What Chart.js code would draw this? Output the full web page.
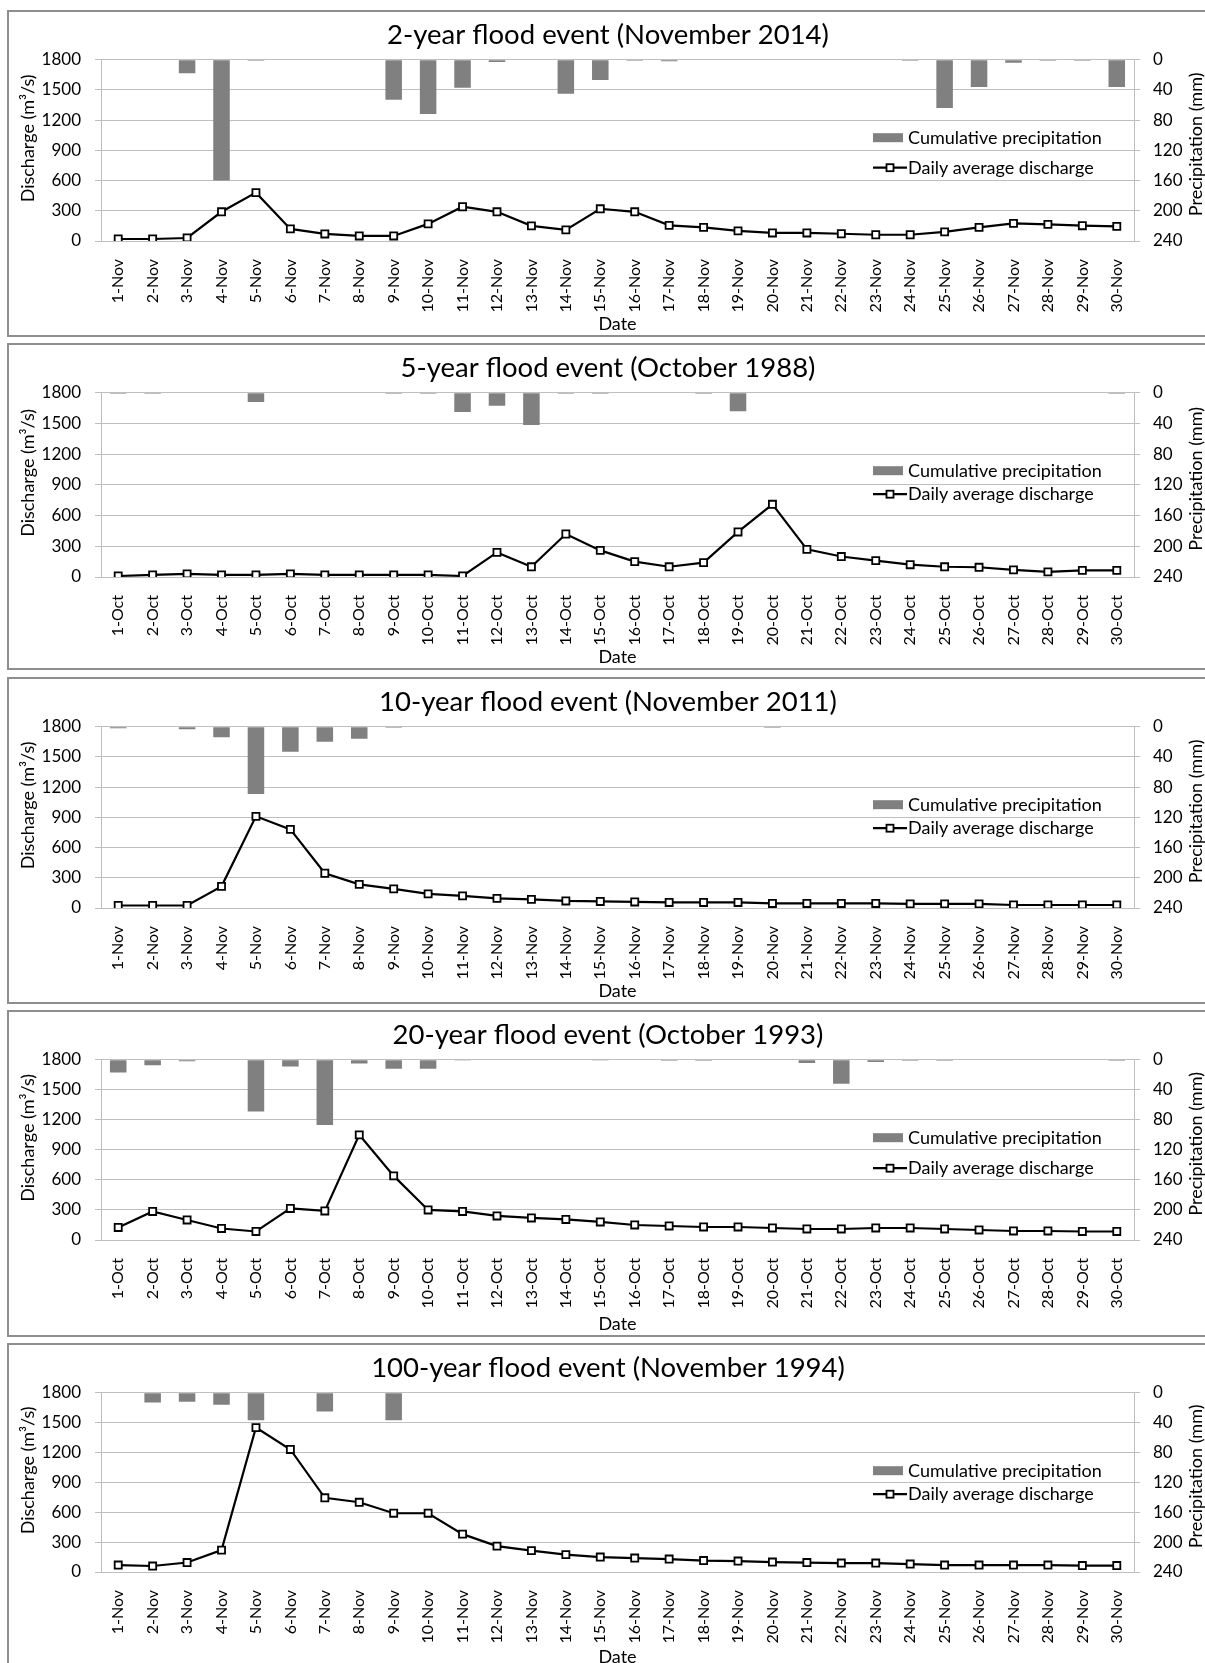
<!DOCTYPE html>
<html>
<head>
<meta charset="utf-8">
<script src="https://cdn.jsdelivr.net/npm/chart.js@4"></script>
<style>
  html, body { margin: 0; padding: 0; background: #fff; }
  body { width: 1205px; height: 1663px; overflow: hidden; position: relative; }
  .frame { position: absolute; left: 7px; width: 1215px; height: 327px; border: 2px solid #8e8e8e; box-sizing: border-box; }
  canvas { position: absolute; left: 8px; }
</style>
</head>
<body>
<script>
const novDays = ['1-Nov', '2-Nov', '3-Nov', '4-Nov', '5-Nov', '6-Nov', '7-Nov', '8-Nov', '9-Nov', '10-Nov',
	'11-Nov', '12-Nov', '13-Nov', '14-Nov', '15-Nov', '16-Nov', '17-Nov', '18-Nov', '19-Nov', '20-Nov',
	'21-Nov', '22-Nov', '23-Nov', '24-Nov', '25-Nov', '26-Nov', '27-Nov', '28-Nov', '29-Nov', '30-Nov'];
const octDays = ['1-Oct', '2-Oct', '3-Oct', '4-Oct', '5-Oct', '6-Oct', '7-Oct', '8-Oct', '9-Oct', '10-Oct',
	'11-Oct', '12-Oct', '13-Oct', '14-Oct', '15-Oct', '16-Oct', '17-Oct', '18-Oct', '19-Oct', '20-Oct',
	'21-Oct', '22-Oct', '23-Oct', '24-Oct', '25-Oct', '26-Oct', '27-Oct', '28-Oct', '29-Oct', '30-Oct'];

const titles = [
	'2-year flood event (November 2014)',
	'5-year flood event (October 1988)',
	'10-year flood event (November 2011)',
	'20-year flood event (October 1993)',
	'100-year flood event (November 1994)'
];

// daily average discharge (m3/s)
const discharge2yr = [20, 20, 30, 290, 480, 120, 70, 50, 50, 170, 340, 290, 150, 110, 320,
	290, 155, 135, 100, 80, 80, 72, 62, 62, 90, 135, 175, 165, 152, 145];
const discharge5yr = [10, 20, 30, 20, 20, 30, 20, 20, 20, 20, 10, 240, 100, 420, 260,
	150, 100, 140, 440, 710, 270, 200, 160, 120, 100, 95, 70, 50, 65, 65];
const discharge10yr = [25, 25, 25, 215, 910, 780, 345, 235, 190, 140, 120, 95, 85, 70, 65,
	60, 55, 55, 55, 45, 45, 45, 45, 40, 40, 40, 30, 30, 30, 30];
const discharge20yr = [125, 285, 200, 115, 85, 315, 290, 1050, 640, 300, 285, 240, 220, 205, 180,
	150, 140, 130, 130, 120, 110, 110, 120, 120, 110, 100, 90, 90, 85, 85];
const discharge100yr = [70, 60, 95, 220, 1450, 1230, 745, 700, 590, 590, 380, 260, 215, 175, 150,
	140, 130, 115, 110, 100, 95, 90, 90, 80, 70, 70, 70, 70, 65, 65];

// cumulative precipitation (mm)
const precip2yr = [0, 0, 18, 160, 1.5, 0, 0, 0, 53, 72, 37, 3, 0, 45, 27,
	1.5, 2, 0, 0, 0, 0, 0, 0, 1.5, 64, 36, 4, 1.5, 1.5, 36];
const precip5yr = [1.5, 1.5, 0, 0, 12, 0, 0, 0, 1.5, 1.5, 25, 17, 42, 1.5, 1.5,
	0, 0, 1.5, 24, 0, 0, 0, 0, 0, 0, 0, 0, 0, 0, 1.5];
const precip10yr = [2, 0, 3.5, 14, 89, 33, 20, 16, 1.5, 0, 0, 0, 0, 0, 0,
	0, 0, 0, 0, 1.5, 0, 0, 0, 0, 0, 0, 0, 0, 0, 0];
const precip20yr = [17, 7.5, 2, 0, 69, 9, 87, 5, 12, 12, 1, 0, 0, 0, 1,
	0, 1.5, 1.5, 0, 0, 4.5, 32, 3, 1.5, 1.5, 0, 0, 0, 0, 1.5];
const precip100yr = [0, 13, 12, 16, 37, 0, 25, 0, 37, 0, 0, 0, 0, 0, 0,
	0, 0, 0, 0, 0, 0, 0, 0, 0, 0, 0, 0, 0, 0, 0];

const events = [
	{ title: titles[0], labels: novDays, q: discharge2yr, p: precip2yr },
	{ title: titles[1], labels: octDays, q: discharge5yr, p: precip5yr },
	{ title: titles[2], labels: novDays, q: discharge10yr, p: precip10yr },
	{ title: titles[3], labels: octDays, q: discharge20yr, p: precip20yr },
	{ title: titles[4], labels: novDays, q: discharge100yr, p: precip100yr }
];

// layout per panel: plot bottom (px from panel top), gap between legend rows
const plotBottom = [231, 234, 231, 230, 229];
const legendGap = [30, 23.5, 23.5, 30.5, 23.5];

const GRID = '#bfbfbf';
const BAR = '#808080';

Chart.defaults.font.family = 'Lato';
Chart.defaults.color = '#000';

// axis titles reading upwards + legend inside the plot
let decorations = {
	id: 'decorations',
	afterDraw(chart, args, opts) {
		const ctx = chart.ctx;
		const area = chart.chartArea;
		const mid = (area.top + area.bottom) / 2;
		ctx.save();
		ctx.fillStyle = '#000';
		ctx.font = '18px Lato';
		ctx.textBaseline = 'middle';
		ctx.textAlign = 'center';

		ctx.save();
		ctx.translate(20, mid - 12);
		ctx.rotate(-Math.PI / 2);
		ctx.fillText('Discharge (m\u00b3/s)', 0, 0);
		ctx.restore();

		ctx.save();
		ctx.translate(1188, mid - 6);
		ctx.rotate(-Math.PI / 2);
		ctx.fillText('Precipitation (mm)', 0, 0);
		ctx.restore();

		const lx = 865;
		const r1 = area.top + 78;
		const r2 = r1 + opts.gap;
		ctx.fillStyle = BAR;
		ctx.fillRect(lx, r1 - 4.5, 30, 9);
		ctx.strokeStyle = '#000';
		ctx.lineWidth = 2.2;
		ctx.beginPath();
		ctx.moveTo(lx, r2);
		ctx.lineTo(lx + 34, r2);
		ctx.stroke();
		ctx.fillStyle = '#fff';
		ctx.lineWidth = 1.8;
		ctx.fillRect(lx + 13.5, r2 - 3.5, 7, 7);
		ctx.strokeRect(lx + 13.5, r2 - 3.5, 7, 7);
		ctx.fillStyle = '#000';
		ctx.textAlign = 'left';
		ctx.fillText('Cumulative precipitation', lx + 35, r1);
		ctx.fillText('Daily average discharge', lx + 35, r2);
		ctx.restore();
	}
};

let makeChart = function (ev, i) {
	const top = 10 + i * 333.33;
	const frame = document.createElement('div');
	frame.className = 'frame';
	frame.style.top = top + 'px';
	document.body.appendChild(frame);

	const canvas = document.createElement('canvas');
	canvas.width = 1200;
	canvas.height = 327;
	canvas.style.top = top + 'px';
	document.body.appendChild(canvas);

	return new Chart(canvas.getContext('2d'), {
		type: 'bar',
		data: {
			labels: ev.labels,
			datasets: [{
				type: 'line',
				label: 'Daily average discharge',
				data: ev.q,
				yAxisID: 'y',
				borderColor: '#000',
				borderWidth: 2.2,
				pointStyle: 'rect',
				pointRadius: 5,
				pointBorderWidth: 1.8,
				pointBackgroundColor: '#fff',
				pointBorderColor: '#000',
				order: 0
			}, {
				type: 'bar',
				label: 'Cumulative precipitation',
				data: ev.p,
				yAxisID: 'y2',
				backgroundColor: BAR,
				barPercentage: 0.48,
				categoryPercentage: 1,
				order: 1
			}]
		},
		options: {
			responsive: false,
			animation: false,
			layout: { padding: 0 },
			plugins: {
				legend: { display: false },
				tooltip: { enabled: false },
				title: {
					display: true,
					text: ev.title,
					color: '#000',
					font: { size: 27.5, weight: 'normal', lineHeight: 1.2 },
					padding: { top: 9, bottom: 7.7 }
				},
				decorations: { gap: legendGap[i] }
			},
			scales: {
				x: {
					grid: { display: false },
					border: { display: true, color: GRID },
					ticks: { autoSkip: false, minRotation: 90, maxRotation: 90, padding: 10, font: { size: 16 } },
					title: { display: true, text: 'Date', font: { size: 18 }, padding: { top: 0, bottom: 2 } },
					afterFit(s) { s.height = 327 - plotBottom[i]; }
				},
				y: {
					position: 'left',
					min: 0,
					max: 1800,
					ticks: { stepSize: 300, padding: 14, font: { size: 17 }, format: { useGrouping: false } },
					grid: { color: GRID, tickLength: 6 },
					border: { display: true, color: GRID },
					afterFit(s) { s.width = 93; }
				},
				y2: {
					position: 'right',
					min: 0,
					max: 240,
					reverse: true,
					ticks: { stepSize: 40, padding: 13, font: { size: 17 } },
					grid: { drawOnChartArea: false, color: GRID, tickLength: 6 },
					border: { display: true, color: GRID },
					afterFit(s) { s.width = 74; }
				}
			}
		},
		plugins: [decorations]
	});
}

document.fonts.load('18px Lato').then(function () {
	let charts = events.map(makeChart);
});
</script>
</body>
</html>
